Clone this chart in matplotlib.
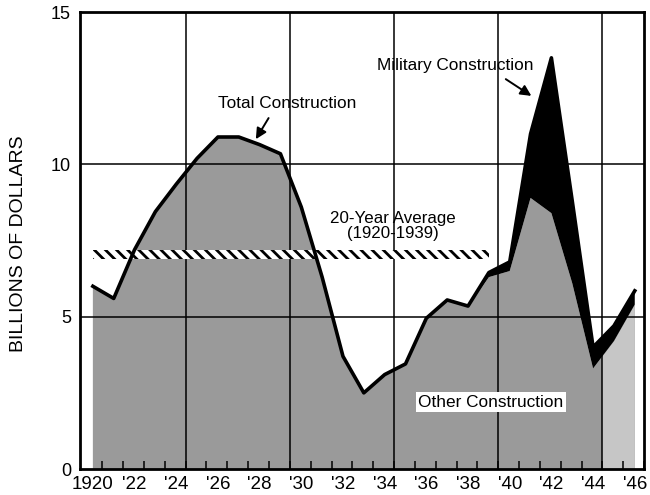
import numpy as np
import matplotlib
matplotlib.use("Agg")
import matplotlib.pyplot as plt
from matplotlib.patches import Rectangle

# construction spending, billions of dollars
years = list(range(1920, 1947))
total_construction = [6.0, 5.6, 7.2, 8.45, 9.35, 10.2, 10.9, 10.9, 10.65, 10.35,
                      8.6, 6.3, 3.7, 2.5, 3.1, 3.45, 4.95, 5.55, 5.35, 6.45,
                      6.8, 11.0, 13.5, 8.8, 4.0, 4.7, 5.85]
other_construction = [6.0, 5.6, 7.2, 8.45, 9.35, 10.2, 10.9, 10.9, 10.65, 10.35,
                      8.6, 6.3, 3.7, 2.5, 3.1, 3.45, 4.95, 5.55, 5.35, 6.3,
                      6.5, 8.9, 8.4, 6.1, 3.3, 4.2, 5.4]
avg_value = 7.05
avg_years = [1920, 1939]

ytick_values = [0, 5, 10, 15]
xtick_years = years[::2]
xtick_labels = ["1920", "'22", "'24", "'26", "'28", "'30", "'32", "'34",
                "'36", "'38", "'40", "'42", "'44", "'46"]

plt.rcParams['font.family'] = ['Liberation Sans', 'DejaVu Sans']
plt.rcParams['hatch.linewidth'] = 2.0

fig = plt.figure(figsize=(6.5, 4.95), dpi=100)
ax = fig.add_axes([0.123, 0.0525, 0.868, 0.923])

# stippled "other construction" area (lighter on the far right, as printed)
ax.fill_between(years, 0, other_construction, facecolor='#9a9a9a', lw=0, zorder=1)
light = ax.fill_between(years, 0, other_construction, facecolor='#c6c6c6', lw=0, zorder=1.1)
clip = Rectangle((1944.45, 0), 3, 15, transform=ax.transData)
light.set_clip_path(clip)

# grid
for gx in np.arange(1924.45, 1946, 5):
    ax.axvline(gx, color='black', lw=1.1, zorder=2)
for gy in [5, 10]:
    ax.axhline(gy, color='black', lw=1.1, zorder=2)

# 20-year average band
ax.fill_between(avg_years, avg_value - 0.15, avg_value + 0.15, facecolor='white',
                edgecolor='black', hatch='\\\\\\', lw=0, zorder=3)

# military construction = gap between other and total
ax.fill_between(years, other_construction, total_construction, facecolor='black',
                lw=0, zorder=4)
ax.plot(years, total_construction, color='black', lw=2.6, zorder=5)

ax.set_xlim(1919.38, 1946.33)
ax.set_ylim(0, 15)
for s in ax.spines.values():
    s.set_linewidth(2)

ax.set_yticks(ytick_values)
ax.tick_params(axis='y', length=0, pad=6.5, labelsize=13)
ax.set_xticks(xtick_years, xtick_labels)
ax.set_xticks(np.arange(1920.45, 1946.5, 1), minor=True)
ax.tick_params(axis='x', which='major', length=0, pad=5, labelsize=13.5)
ax.tick_params(axis='x', which='minor', direction='in', length=6, width=1.1)

fig.text(0.028, 0.507, 'BILLIONS OF DOLLARS', rotation=90, ha='center', va='center',
         fontsize=14)

arrow = dict(arrowstyle='-|>', color='black', lw=1.4, mutation_scale=16)
ax.text(1929.3, 12.0, 'Total Construction', ha='center', va='center', fontsize=12.4, zorder=6)
ax.annotate('', xy=(1927.75, 10.75), xytext=(1928.5, 11.6), arrowprops=arrow, zorder=6)
ax.text(1937.4, 13.25, 'Military Construction', ha='center', va='center', fontsize=12.4, zorder=6)
ax.annotate('', xy=(1941.15, 12.2), xytext=(1939.7, 12.85), arrowprops=arrow, zorder=6)
ax.text(1934.4, 7.97, '20-Year Average\n(1920-1939)', ha='center', va='center',
        fontsize=12.2, linespacing=1.0, zorder=6)
ax.text(1939.1, 2.2, 'Other Construction', ha='center', va='center', fontsize=12.4,
        bbox=dict(facecolor='white', edgecolor='none', pad=1.5), zorder=6)

fig.savefig('out.png', dpi=100)
